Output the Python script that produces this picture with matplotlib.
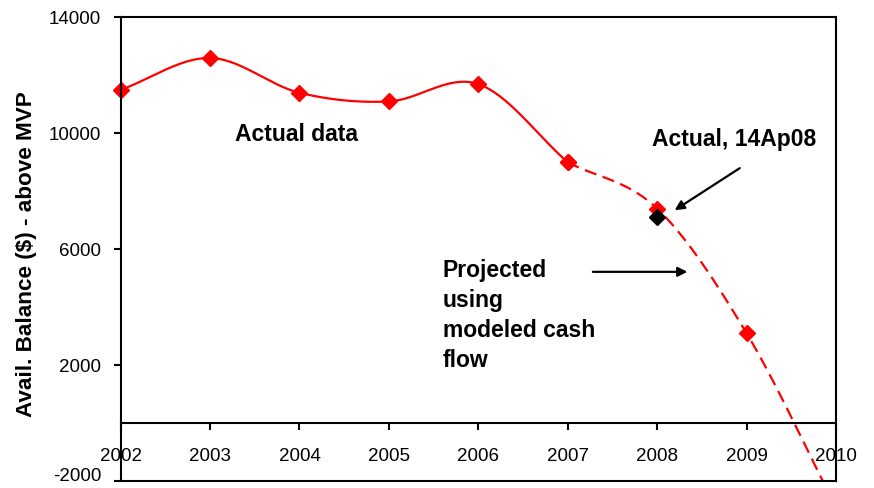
#!/usr/bin/env python3
"""Available balance above MVP: actual data and projection."""

import matplotlib
matplotlib.use("Agg")
import matplotlib.pyplot as plt
import numpy as np

plt.rcParams["font.family"] = ["Liberation Sans", "DejaVu Sans"]
plt.rcParams["axes.unicode_minus"] = False

YEARS_ACTUAL = [2002, 2003, 2004, 2005, 2006, 2007]
BAL_ACTUAL = [11500, 12600, 11400, 11100, 11700, 9000]
YEARS_PROJ = [2007, 2008, 2009, 2010]
BAL_PROJ = [9000, 7400, 3100, -2900]
ACTUAL_APR08 = (2008, 7100)
YTICKS = [-2000, 2000, 6000, 10000, 14000]
XTICKS = list(range(2002, 2011))


def smooth(xs, ys, n=40):
    # Catmull-Rom style smoothing, like a spreadsheet "smoothed line"
    x = np.asarray(xs, float)
    y = np.asarray(ys, float)
    # reflect end points so the end tangents follow the first/last segment
    px = np.concatenate([[2 * x[0] - x[1]], x, [2 * x[-1] - x[-2]]])
    py = np.concatenate([[2 * y[0] - y[1]], y, [2 * y[-1] - y[-2]]])
    out_x, out_y = [], []
    t = np.linspace(0, 1, n)
    h00 = 2 * t**3 - 3 * t**2 + 1
    h10 = t**3 - 2 * t**2 + t
    h01 = -2 * t**3 + 3 * t**2
    h11 = t**3 - t**2
    for i in range(1, len(px) - 2):
        mx0 = (px[i + 1] - px[i - 1]) / 2
        mx1 = (px[i + 2] - px[i]) / 2
        my0 = (py[i + 1] - py[i - 1]) / 2
        my1 = (py[i + 2] - py[i]) / 2
        out_x.append(h00 * px[i] + h10 * mx0 + h01 * px[i + 1] + h11 * mx1)
        out_y.append(h00 * py[i] + h10 * my0 + h01 * py[i + 1] + h11 * my1)
    return np.concatenate(out_x), np.concatenate(out_y)


def main():
    fig = plt.figure(figsize=(8.74, 4.88), dpi=100)
    ax = fig.add_axes([0.138, 0.0143, 0.8185, 0.950])

    sx, sy = smooth(YEARS_ACTUAL, BAL_ACTUAL)
    ax.plot(sx, sy, color="#ff0000", lw=1.6, solid_capstyle="round")
    ax.plot(YEARS_ACTUAL, BAL_ACTUAL, ls="none", marker="D", ms=8,
            color="#ff0000", clip_on=False)

    px, py = smooth(YEARS_PROJ, BAL_PROJ)
    ax.plot(px, py, color="#ff0000", lw=1.6, ls=(0, (5.5, 3.0)))
    ax.plot(YEARS_PROJ, BAL_PROJ, ls="none", marker="D", ms=8,
            color="#ff0000")
    ax.plot([ACTUAL_APR08[0]], [ACTUAL_APR08[1]], ls="none", marker="D",
            ms=8, color="black")

    ax.set_xlim(2002, 2010)
    ax.set_ylim(-2000, 14000)
    ax.set_yticks(YTICKS)
    ax.set_xticks(XTICKS)
    ax.set_xticklabels([str(v) for v in XTICKS])

    for s in ax.spines.values():
        s.set_linewidth(1.5)
    ax.spines["bottom"].set_position(("data", 0))
    ax.axhline(-2000, color="black", lw=1.5, clip_on=False)

    ax.tick_params(axis="both", direction="out", length=5, width=1.5,
                   labelsize=13.5)
    ax.tick_params(axis="x", pad=13)
    ax.tick_params(axis="y", pad=9)
    # keep the lowest y label inside the picture
    ax.get_yticklabels()[0].set_verticalalignment("baseline")

    fig.text(0.030, 0.4795, "Avail. Balance ($) - above MVP", rotation=90,
             ha="center", va="center", fontsize=16.2, fontweight="bold")

    ax.text(2003.28, 9960, "Actual data", fontsize=16.5, fontweight="bold",
            va="center", ha="left")
    ax.text(2007.94, 9780, "Actual, 14Ap08", fontsize=16.5,
            fontweight="bold", va="center", ha="left")
    ax.text(2005.6, 5650, "Projected\nusing\nmodeled cash\nflow",
            fontsize=16.5, fontweight="bold", va="top", ha="left",
            linespacing=1.38)

    arrow = dict(arrowstyle="-|>", color="black", lw=1.6, mutation_scale=14)
    ax.annotate("", xy=(2008.17, 7295), xytext=(2008.95, 8850),
                arrowprops=arrow)
    ax.annotate("", xy=(2008.37, 5220), xytext=(2007.25, 5220),
                arrowprops=arrow)

    fig.savefig("out.png", dpi=100)
    plt.close(fig)


if __name__ == "__main__":
    main()
